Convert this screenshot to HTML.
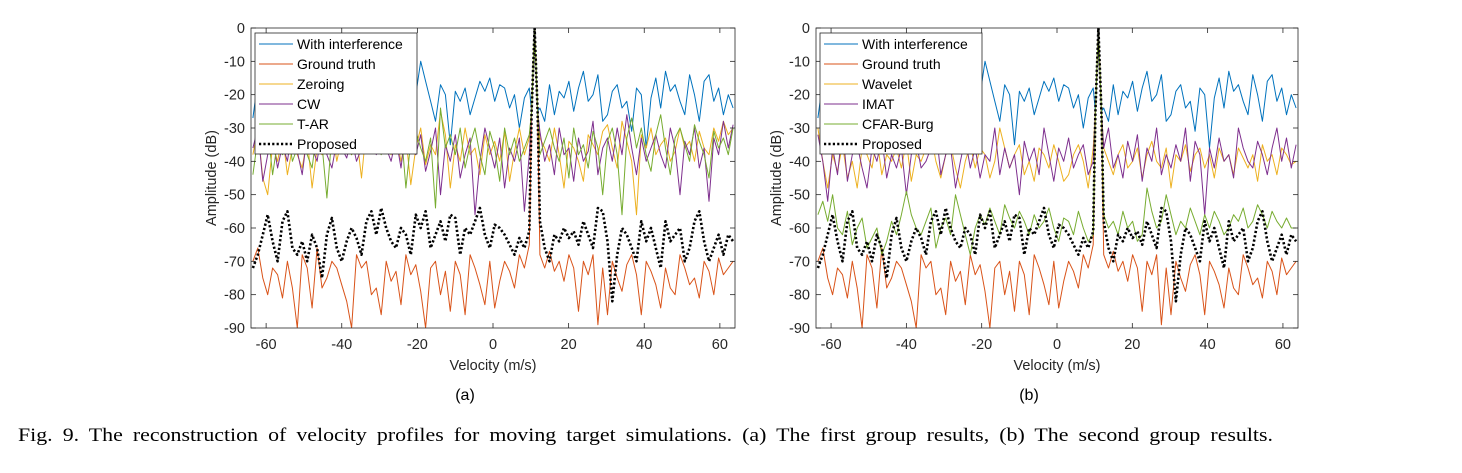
<!DOCTYPE html>
<html><head><meta charset="utf-8"><style>
body{margin:0;background:#fff;width:1462px;height:473px;overflow:hidden}
svg{display:block;font-family:"Liberation Sans",sans-serif}
</style></head><body>
<svg id="fig" width="1462" height="473">
<text x="18" y="441" font-family="Liberation Serif,serif" font-size="19" word-spacing="4" textLength="1255" lengthAdjust="spacingAndGlyphs">Fig. 9.  The reconstruction of velocity profiles for moving target simulations. (a) The first group results, (b) The second group results.</text>
</svg>
<script>
const xTicks=[-60,-40,-20,0,20,40,60];
const yTicks=[0,-10,-20,-30,-40,-50,-60,-70,-80,-90];
const peakVel=11;
const interfL=[-27,-16,-20,-24,-18,-22,-15,-19,-25,-21,-17,-23,-20,-16,-22,-26,-19,-24,-21,-27,-18,-14,-16,-13,-15,-22,-29,-17,-12,-13,-16,-24,-33,-20,-10,-16,-22,-28,-17,-20,-35,-19,-22,-18,-26,-21,-16,-19,-15,-22,-17,-18,-24,-20,-30,-21,-18];
const interfR=[-24,-28,-17,-26,-19,-21,-16,-25,-18,-13,-22,-20,-14,-28,-26,-19,-17,-24,-22,-31,-18,-20,-36,-21,-15,-24,-13,-19,-17,-22,-26,-14,-20,-28,-16,-14,-22,-18,-26,-20,-24];
const gtL=[-70,-66,-75,-80,-72,-74,-81,-70,-78,-90,-68,-72,-84,-66,-78,-75,-70,-72,-77,-82,-90,-68,-72,-70,-80,-78,-86,-70,-76,-73,-83,-68,-74,-71,-79,-90,-72,-70,-80,-73,-85,-70,-74,-86,-68,-72,-77,-83,-70,-84,-76,-70,-73,-78,-68,-72,-65];
const gtR=[-68,-72,-67,-73,-70,-76,-68,-72,-85,-70,-74,-68,-89,-72,-86,-70,-75,-79,-71,-68,-74,-86,-70,-73,-77,-84,-72,-78,-80,-68,-72,-77,-75,-81,-70,-73,-80,-69,-74,-72,-70];
const propL=[-72,-68,-62,-56,-64,-70,-58,-55,-66,-68,-64,-70,-62,-66,-75,-62,-57,-66,-70,-64,-60,-63,-68,-58,-55,-62,-54,-60,-64,-66,-60,-62,-68,-56,-60,-55,-66,-62,-58,-64,-56,-57,-68,-60,-62,-58,-54,-62,-66,-59,-60,-62,-65,-68,-63,-66,-61];
const propR=[-58,-66,-70,-62,-64,-60,-63,-61,-65,-58,-62,-66,-54,-55,-64,-82,-68,-60,-62,-66,-70,-58,-64,-60,-66,-72,-58,-64,-62,-60,-70,-66,-58,-55,-64,-70,-66,-62,-68,-62,-64];
const zeroL=[-38,-30,-45,-50,-35,-40,-32,-44,-36,-38,-42,-33,-48,-36,-38,-35,-30,-40,-33,-36,-38,-32,-45,-30,-28,-36,-30,-34,-38,-32,-40,-33,-47,-36,-30,-41,-35,-38,-25,-32,-48,-35,-40,-30,-38,-36,-44,-32,-38,-34,-40,-31,-46,-37,-30,-38,-33];
const zeroR=[-33,-36,-40,-30,-38,-48,-34,-36,-40,-46,-32,-35,-38,-31,-29,-36,-42,-28,-34,-40,-56,-32,-36,-30,-38,-35,-33,-40,-37,-30,-36,-34,-40,-31,-36,-38,-30,-34,-28,-32,-30];
const cwL=[-36,-30,-46,-38,-33,-42,-35,-40,-30,-37,-44,-32,-36,-40,-30,-38,-42,-34,-36,-39,-33,-40,-36,-28,-32,-38,-30,-36,-40,-33,-42,-30,-36,-38,-32,-43,-37,-30,-50,-35,-40,-32,-45,-38,-33,-56,-40,-30,-36,-42,-33,-48,-36,-40,-33,-55,-38];
const cwR=[-31,-40,-35,-44,-30,-38,-36,-46,-33,-40,-37,-28,-44,-36,-33,-40,-30,-38,-26,-36,-44,-33,-40,-36,-32,-38,-42,-30,-36,-50,-34,-38,-30,-42,-36,-52,-33,-38,-28,-36,-29];
const tarL=[-44,-33,-36,-30,-44,-34,-38,-30,-40,-36,-31,-38,-42,-30,-35,-51,-32,-36,-28,-34,-38,-29,-36,-32,-30,-34,-38,-28,-33,-36,-30,-48,-34,-31,-36,-40,-33,-54,-24,-36,-32,-38,-30,-42,-35,-30,-38,-44,-31,-36,-46,-30,-38,-33,-40,-36,-32];
const tarR=[-38,-34,-30,-36,-40,-33,-45,-30,-38,-35,-42,-31,-36,-50,-34,-30,-38,-56,-33,-27,-36,-30,-38,-43,-32,-26,-36,-44,-33,-30,-35,-40,-29,-34,-38,-45,-31,-36,-33,-38,-30];
const wavL=[-30,-40,-48,-38,-43,-35,-45,-40,-48,-36,-38,-42,-33,-44,-38,-40,-36,-42,-34,-46,-38,-40,-36,-32,-40,-45,-38,-35,-42,-48,-40,-35,-42,-36,-38,-45,-40,-30,-36,-42,-38,-35,-44,-40,-46,-36,-38,-42,-35,-40,-46,-44,-38,-35,-40,-48,-36];
const wavR=[-36,-40,-44,-38,-35,-42,-40,-36,-45,-38,-34,-40,-42,-36,-48,-38,-40,-35,-43,-38,-36,-42,-38,-45,-36,-40,-38,-44,-36,-39,-42,-38,-46,-35,-40,-38,-44,-36,-38,-41,-40];
const imatL=[-32,-40,-52,-36,-44,-30,-46,-38,-35,-42,-48,-36,-40,-33,-45,-38,-42,-36,-50,-38,-34,-42,-40,-36,-30,-44,-38,-36,-48,-40,-33,-42,-36,-45,-38,-40,-30,-44,-36,-42,-38,-50,-34,-40,-36,-44,-30,-38,-46,-36,-40,-33,-42,-38,-35,-44,-40];
const imatR=[-36,-30,-42,-38,-45,-34,-40,-32,-46,-36,-40,-30,-44,-38,-42,-35,-40,-30,-46,-34,-38,-56,-36,-42,-33,-40,-38,-45,-30,-36,-40,-42,-34,-38,-44,-36,-30,-40,-33,-42,-35];
const cfarL=[-56,-52,-58,-50,-60,-62,-55,-65,-60,-57,-66,-63,-60,-68,-64,-58,-62,-56,-49,-56,-60,-62,-58,-54,-66,-60,-57,-62,-50,-56,-62,-68,-60,-56,-59,-54,-58,-62,-53,-57,-60,-55,-58,-62,-56,-60,-58,-54,-60,-64,-57,-58,-62,-55,-60,-64,-62];
const cfarR=[-56,-60,-58,-62,-55,-60,-58,-64,-62,-48,-55,-60,-58,-50,-56,-62,-58,-60,-54,-58,-62,-56,-60,-55,-58,-62,-60,-56,-58,-54,-60,-58,-53,-56,-60,-55,-58,-60,-57,-60,-60];

const NS='http://www.w3.org/2000/svg';
const svg=document.getElementById('fig');
function mk(tag,attrs,parent){const e=document.createElementNS(NS,tag);for(const k in attrs)e.setAttribute(k,attrs[k]);(parent||svg).appendChild(e);return e;}
const C={blue:'#0072BD',orange:'#D95319',yellow:'#EDB120',purple:'#7E2F8E',green:'#77AC30'};

function panel(opt){
  const g=mk('g',{});
  
  
  const L=opt.left,R=opt.right,T=28,B=328,vmin=-64,vmax=64;
  const xs=v=>L+(v-vmin)/(vmax-vmin)*(R-L);
  const ys=d=>T+(0-d)/90*(B-T);
  mk('rect',{x:L,y:T,width:R-L,height:B-T,fill:'#fff'},g);
  const clipId='clip'+opt.name;
  const cp=mk('clipPath',{id:clipId},g);mk('rect',{x:L,y:T,width:R-L,height:B-T},cp);
  const lines=mk('g',{'clip-path':'url(#'+clipId+')'},g);
  function series(Ld,Rd,color,name,dotted){
    const pts=[];
    const lEnd=peakVel-1.4,rStart=peakVel+1.4;
    Ld.forEach((d,i)=>pts.push([xs(vmin+0.5+i*(lEnd-vmin-0.5)/(Ld.length-1)),ys(d)]));
    pts.push([xs(peakVel-0.8),ys(-25)]);pts.push([xs(peakVel),ys(0)]);pts.push([xs(peakVel+0.8),ys(-25)]);
    Rd.forEach((d,i)=>pts.push([xs(rStart+i*(vmax-0.5-rStart)/(Rd.length-1)),ys(d)]));
    const p=mk('polyline',{points:pts.map(p=>p[0].toFixed(1)+','+p[1].toFixed(1)).join(' '),fill:'none',stroke:color,'stroke-width':dotted?2.6:1,'stroke-dasharray':dotted?'2.2,2.2':'none','stroke-linejoin':'round'},lines);
    
    
  }
  opt.series.forEach(s=>series(s[0],s[1],s[2],s[3],s[4]));
  mk('rect',{x:L,y:T,width:R-L,height:B-T,fill:'none',stroke:'#262626','stroke-width':0.8},g);
  xTicks.forEach(v=>{
    const x=xs(v);
    mk('line',{x1:x,y1:B,x2:x,y2:B-5,stroke:'#262626','stroke-width':0.8},g);
    mk('line',{x1:x,y1:T,x2:x,y2:T+5,stroke:'#262626','stroke-width':0.8},g);
    const t=mk('text',{x:x,y:B+21,'text-anchor':'middle','font-size':14.5,fill:'#262626'},g);t.textContent=v;
    
    
  });
  yTicks.forEach(d=>{
    const y=ys(d);
    mk('line',{x1:L,y1:y,x2:L+5,y2:y,stroke:'#262626','stroke-width':0.8},g);
    mk('line',{x1:R,y1:y,x2:R-5,y2:y,stroke:'#262626','stroke-width':0.8},g);
    const t=mk('text',{x:L-6,y:y+5,'text-anchor':'end','font-size':14.5,fill:'#262626'},g);t.textContent=d;
    
    
  });
  const xl=mk('text',{x:(L+R)/2,y:370,'text-anchor':'middle','font-size':14.5,fill:'#262626'},g);xl.textContent='Velocity (m/s)';
  
  
  const yl=mk('text',{x:0,y:0,'text-anchor':'middle','font-size':14.5,fill:'#262626',transform:'translate('+(L-35)+',178) rotate(-90)'},g);yl.textContent='Amplitude (dB)';
  
  
  const sub=mk('text',{x:(L+R)/2-28,y:400,'text-anchor':'middle','font-size':16,fill:'#000'},g);sub.textContent=opt.label;
  
  
  const lg=mk('g',{},g);
  
  
  const lx=L+4;
  mk('rect',{x:lx,y:33,width:162,height:121,fill:'#fff',stroke:'#262626','stroke-width':0.8},lg);
  opt.series.forEach((s,i)=>{
    const y=44+i*20;
    mk('line',{x1:lx+4,y1:y,x2:lx+38,y2:y,stroke:s[2],'stroke-width':s[4]?2.6:1,'stroke-dasharray':s[4]?'2.2,2.2':'none'},lg);
    const t=mk('text',{x:lx+42,y:y+5,'font-size':14,fill:'#000'},lg);t.textContent=s[5];
    
    
  });
}
panel({name:'panel-a',label:'(a)',left:251,right:735,series:[
 [interfL,interfR,C.blue,'with-interference-line',false,'With interference'],
 [gtL,gtR,C.orange,'ground-truth-line',false,'Ground truth'],
 [zeroL,zeroR,C.yellow,'zeroing-line',false,'Zeroing'],
 [cwL,cwR,C.purple,'cw-line',false,'CW'],
 [tarL,tarR,C.green,'t-ar-line',false,'T-AR'],
 [propL,propR,'#000','proposed-line',true,'Proposed']]});
panel({name:'panel-b',label:'(b)',left:816,right:1298,series:[
 [interfL,interfR,C.blue,'with-interference-line',false,'With interference'],
 [gtL,gtR,C.orange,'ground-truth-line',false,'Ground truth'],
 [wavL,wavR,C.yellow,'wavelet-line',false,'Wavelet'],
 [imatL,imatR,C.purple,'imat-line',false,'IMAT'],
 [cfarL,cfarR,C.green,'cfar-burg-line',false,'CFAR-Burg'],
 [propL,propR,'#000','proposed-line',true,'Proposed']]});
</script>
</body></html>
